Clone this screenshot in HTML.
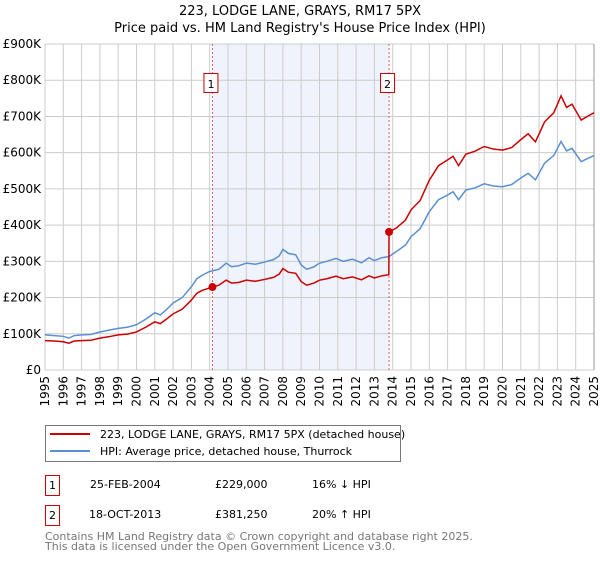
<!DOCTYPE html>
<html><head><meta charset="utf-8"><style>
body{margin:0;background:#fff;font-family:"Liberation Sans","DejaVu Sans",sans-serif;}
svg text{font-family:"DejaVu Sans","Liberation Sans",sans-serif;}
</style></head><body>
<svg id="c" width="600" height="560" viewBox="0 0 600 560" xmlns="http://www.w3.org/2000/svg">
<text x="300" y="15" text-anchor="middle" font-size="13">223, LODGE LANE, GRAYS, RM17 5PX</text>
<text x="300" y="32" text-anchor="middle" font-size="13">Price paid vs. HM Land Registry's House Price Index (HPI)</text>
<g id="plot"></g>
<g>
<rect x="45.5" y="425.5" width="355" height="36" fill="#fff" stroke="#777"/>
<line x1="50" y1="434" x2="90" y2="434" stroke="#cc0000" stroke-width="2"/>
<text x="100" y="438" font-size="11">223, LODGE LANE, GRAYS, RM17 5PX (detached house)</text>
<line x1="50" y1="451" x2="90" y2="451" stroke="#5b8fd0" stroke-width="2"/>
<text x="100" y="455" font-size="11">HPI: Average price, detached house, Thurrock</text>
</g>
<g font-size="11">
<rect x="45.5" y="475.5" width="14" height="20" fill="#fff" stroke="#cc0000"/>
<text x="52.5" y="489" text-anchor="middle">1</text>
<text x="90" y="488">25-FEB-2004</text><text x="215" y="488">£229,000</text><text x="312" y="488">16% ↓ HPI</text>
<rect x="45.5" y="505.5" width="14" height="20" fill="#fff" stroke="#cc0000"/>
<text x="52.5" y="519" text-anchor="middle">2</text>
<text x="89" y="518">18-OCT-2013</text><text x="215" y="518">£381,250</text><text x="312" y="518">20% ↑ HPI</text>
</g>
<text x="45" y="540" font-size="11" fill="#777">Contains HM Land Registry data © Crown copyright and database right 2025.</text>
<text x="45" y="550" font-size="11" fill="#777">This data is licensed under the Open Government Licence v3.0.</text>
</svg>
<script>
const yTicks=[0,100,200,300,400,500,600,700,800,900];
const yTickLabels=["£0","£100K","£200K","£300K","£400K","£500K","£600K","£700K","£800K","£900K"];
const xYears=[1995,1996,1997,1998,1999,2000,2001,2002,2003,2004,2005,2006,2007,2008,2009,2010,2011,2012,2013,2014,2015,2016,2017,2018,2019,2020,2021,2022,2023,2024,2025];
const hpiYears=[1995.0,1995.5,1996.0,1996.3,1996.6,1997.0,1997.5,1998.0,1998.5,1999.0,1999.5,2000.0,2000.5,2001.0,2001.3,2001.6,2002.0,2002.5,2003.0,2003.3,2003.6,2004.0,2004.5,2004.9,2005.2,2005.6,2006.0,2006.5,2007.0,2007.5,2007.8,2008.0,2008.3,2008.7,2009.0,2009.3,2009.7,2010.0,2010.4,2010.9,2011.3,2011.8,2012.3,2012.7,2013.0,2013.4,2013.79,2014.2,2014.7,2015.0,2015.5,2016.0,2016.5,2017.0,2017.3,2017.6,2018.0,2018.5,2019.0,2019.5,2020.0,2020.5,2021.0,2021.4,2021.8,2022.3,2022.8,2023.2,2023.5,2023.8,2024.3,2024.7,2025.0];
const hpiValues=[97,95,93,88,95,97,98,105,110,115,118,125,140,158,152,165,185,200,230,252,262,272,278,295,285,288,295,292,298,305,315,333,322,318,290,278,285,295,300,308,300,306,296,310,302,310,313,327,345,368,390,437,470,483,492,470,497,503,514,508,506,512,530,543,525,571,592,631,605,612,575,585,592];
const priceYears=[1995.0,1995.5,1996.0,1996.3,1996.6,1997.0,1997.5,1998.0,1998.5,1999.0,1999.5,2000.0,2000.5,2001.0,2001.3,2001.6,2002.0,2002.5,2003.0,2003.3,2003.6,2004.15,2004.5,2004.9,2005.2,2005.6,2006.0,2006.5,2007.0,2007.5,2007.8,2008.0,2008.3,2008.7,2009.0,2009.3,2009.7,2010.0,2010.4,2010.9,2011.3,2011.8,2012.3,2012.7,2013.0,2013.4,2013.79,2013.8,2014.2,2014.7,2015.0,2015.5,2016.0,2016.5,2017.0,2017.3,2017.6,2018.0,2018.5,2019.0,2019.5,2020.0,2020.5,2021.0,2021.4,2021.8,2022.3,2022.8,2023.2,2023.5,2023.8,2024.3,2024.7,2025.0];
const priceValues=[81,80,78,74,80,81,82,88,92,97,99,105,118,133,128,139,155,168,193,212,220,229,234,248,240,242,248,245,250,256,265,280,270,267,244,234,240,248,252,259,252,257,249,260,254,260,263,381,392,414,442,468,524,564,580,590,564,596,604,617,610,607,614,636,652,630,685,710,757,725,734,690,702,710];
const saleYears=[2004.15,2013.8];
const saleValues=[229,381.25];
const saleLabels=["1","2"];

const NS="http://www.w3.org/2000/svg";
const X0=45,X1=594,Y0=370,Y1=44;
const xs=y=>X0+(y-1995)/30*(X1-X0);
const ys=v=>Y0-v/900*(Y0-Y1);
const plot=document.getElementById('plot');
function mk(t,a){const e=document.createElementNS(NS,t);for(const k in a)e.setAttribute(k,a[k]);plot.appendChild(e);return e;}

const sh=mk('rect',{x:xs(saleYears[0]),y:Y1,width:xs(saleYears[1])-xs(saleYears[0]),height:Y0-Y1,fill:'#eef3fc'});


xYears.forEach(yr=>{
  const l=mk('line',{x1:xs(yr),x2:xs(yr),y1:Y1,y2:Y0,stroke:'#cccccc','stroke-width':1});
  
  
  const t=mk('text',{x:0,y:0,'font-size':12,'text-anchor':'end',transform:`translate(${xs(yr)+4},${Y0+6}) rotate(-90)`});
  t.textContent=yr;
  
  
});
yTicks.forEach((v,i)=>{
  const l=mk('line',{x1:X0,x2:X1,y1:ys(v),y2:ys(v),stroke:'#cccccc','stroke-width':1});
  
  
  const t=mk('text',{x:X0-4,y:ys(v)+4,'font-size':12,'text-anchor':'end'});
  t.textContent=yTickLabels[i];
  
  
});
const ax=mk('line',{x1:X1,x2:X1,y1:Y1,y2:Y0,stroke:'#999'});


saleYears.forEach((yr,i)=>{
  const l=mk('line',{x1:xs(yr),x2:xs(yr),y1:Y1,y2:Y0,stroke:'#e06060','stroke-dasharray':'2,2'});
  
  
  const r=mk('rect',{x:xs(yr)-8.5,y:73.5,width:14,height:19,fill:'#fff',stroke:'#cc0000'});
  
  
  const t=mk('text',{x:xs(yr)-1.5,y:88,'font-size':11,'text-anchor':'middle'});
  t.textContent=saleLabels[i];
  
  
});
const hp=mk('polyline',{points:hpiYears.map((y,i)=>xs(y)+','+ys(hpiValues[i])).join(' '),fill:'none',stroke:'#5b8fd0','stroke-width':1.5});


const pp=mk('polyline',{points:priceYears.map((y,i)=>xs(y)+','+ys(priceValues[i])).join(' '),fill:'none',stroke:'#cc0000','stroke-width':1.5});


saleYears.forEach((yr,i)=>{
  const c=mk('circle',{cx:xs(yr),cy:ys(saleValues[i]),r:4,fill:'#cc0000'});
  
  
});
</script>
</body></html>
